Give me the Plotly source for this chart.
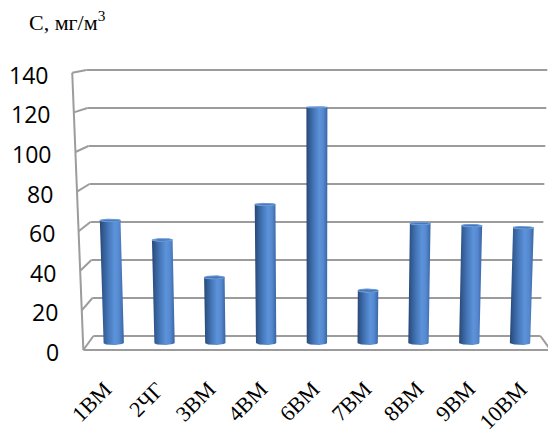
import numpy as np
import plotly.graph_objects as go

# ---------------- data ----------------
categories = ["1ВМ", "2ЧГ", "3ВМ", "4ВМ", "6ВМ", "7ВМ", "8ВМ", "9ВМ", "10ВМ"]
values = [63.2, 53.1, 33.8, 71.4, 121.5, 27.0, 61.6, 60.5, 59.4]
y_ticks = [0, 20, 40, 60, 80, 100, 120, 140]
y_tick_labels = [str(t) for t in y_ticks]
unit_title = "С, мг/м<sup>3</sup>"

# ---------------- view geometry ----------------
W, H = 548, 435
CAT_PX = 51.9        # px per category on the front plane
CENTER_PX = 316.9    # px of the centre category
MID_FLOOR_PX = 343.0 # px of value 0 at mid depth
UNIT_PX = 1.94       # px per value unit at mid depth

n = len(categories)
xc = (n - 1) / 2
x_lo, x_hi = -0.5, n - 0.5


def proj(X, v, z):
    """Perspective-like mapping (category, value, depth 0=front..1=back)
    into the data units of the mid-depth plane."""
    X = np.asarray(X, float)
    v = np.asarray(v, float)
    z = np.asarray(z, float)
    m = 1 - 0.043 * z
    a = 3.4e-4 - 1.2e-4 * z
    dx = xc + (X - xc) * m * (1 + a * v)
    dv = (v * (1.98 - 0.08 * z) + 14 * (z - 0.5)) / UNIT_PX
    return dx, dv


x_range = [xc - CENTER_PX / CAT_PX, xc + (W - CENTER_PX) / CAT_PX]
y_range = [-(H - MID_FLOOR_PX) / UNIT_PX, MID_FLOOR_PX / UNIT_PX]

fig = go.Figure()

GRID = "#9c9c9c"

# back wall gridlines + left wall lines
gx, gy = [], []
for t in y_ticks:
    x0, y0 = proj(x_lo, t, 1)
    x1, y1 = proj(x_hi, t, 1)
    gx += [float(x0), float(x1), None]
    gy += [float(y0), float(y1), None]
    xf, yf = proj(x_lo, t, 0)
    gx += [float(xf), float(x0), None]
    gy += [float(yf), float(y0), None]
# left wall front edge
xa, ya = proj(x_lo, y_ticks[0], 0)
xb, yb = proj(x_lo, y_ticks[-1], 0)
gx += [float(xa), float(xb), None]
gy += [float(ya), float(yb), None]
# floor front edge and right edge
xr0, yr0 = proj(x_hi, 0, 0)
xr1, yr1 = proj(x_hi, 0, 1)
gx += [float(xa), float(xr0), float(xr1), None]
gy += [float(ya), float(yr0), float(yr1), None]

fig.add_trace(go.Scatter(x=gx, y=gy, mode="lines",
                         line=dict(color=GRID, width=2),
                         hoverinfo="skip", showlegend=False))

# cylinders
r, rz, zc = 0.2, 0.14, 0.5
body_scale = [[0.0, "#274575"], [0.12, "#31598f"], [0.35, "#4576b8"],
              [0.62, "#5c93da"], [0.8, "#5688cf"], [1.0, "#3865a3"]]
phi_front = np.linspace(np.pi, 0, 30)
phi_full = np.linspace(0, 2 * np.pi, 60)
for i, v in enumerate(values):
    # body: top front arc (left->right), bottom front arc (right->left)
    Xt = i + r * np.cos(phi_front)
    Zt = zc - rz * np.sin(phi_front)
    tx, ty = proj(Xt, np.full_like(Xt, v), Zt)
    bx, by = proj(Xt[::-1], np.zeros_like(Xt), Zt[::-1])
    fig.add_trace(go.Scatter(
        x=np.concatenate([tx, bx, tx[:1]]), y=np.concatenate([ty, by, ty[:1]]),
        mode="lines", fill="toself", line=dict(width=0, color="#3865a3"),
        fillgradient=dict(type="horizontal", colorscale=body_scale),
        hoverinfo="skip", showlegend=False))
    # top cap
    Xc = i + r * np.cos(phi_full)
    Zc = zc - rz * np.sin(phi_full)
    cx, cy = proj(Xc, np.full_like(Xc, v), Zc)
    fig.add_trace(go.Scatter(
        x=cx, y=cy, mode="lines", fill="toself", fillcolor="#4777b8",
        line=dict(width=1, color="#6a9bd8"),
        hoverinfo="skip", showlegend=False))

annotations = []
# value axis labels
for t, lab in zip(y_ticks, y_tick_labels):
    ax_, ay_ = proj(x_lo, t, 0)
    annotations.append(dict(x=float(ax_), y=float(ay_), xref="x", yref="y",
                            text=lab, showarrow=False, xanchor="right",
                            yanchor="middle", xshift=-22, yshift=-2,
                            font=dict(family="Open Sans", size=23, color="#000000")))
# category labels
for i, c in enumerate(categories):
    ax_, ay_ = proj(i, 0, 0)
    annotations.append(dict(x=float(ax_), y=float(ay_), xref="x", yref="y",
                            text=c, showarrow=False, xanchor="right",
                            yanchor="top", textangle=-45, xshift=10, yshift=-24,
                            font=dict(family="Liberation Serif", size=22, color="#000000")))
# unit title
annotations.append(dict(x=27 / W, y=1 - 21 / H, xref="paper", yref="paper",
                        text=unit_title, showarrow=False, xanchor="left",
                        yanchor="middle",
                        font=dict(family="Liberation Serif", size=22, color="#000000")))

fig.update_layout(
    width=W, height=H,
    margin=dict(l=0, r=0, t=0, b=0),
    paper_bgcolor="white", plot_bgcolor="white",
    xaxis=dict(range=x_range, visible=False, fixedrange=True),
    yaxis=dict(range=y_range, visible=False, fixedrange=True),
    annotations=annotations,
    showlegend=False,
)

fig.write_html("out.html")
